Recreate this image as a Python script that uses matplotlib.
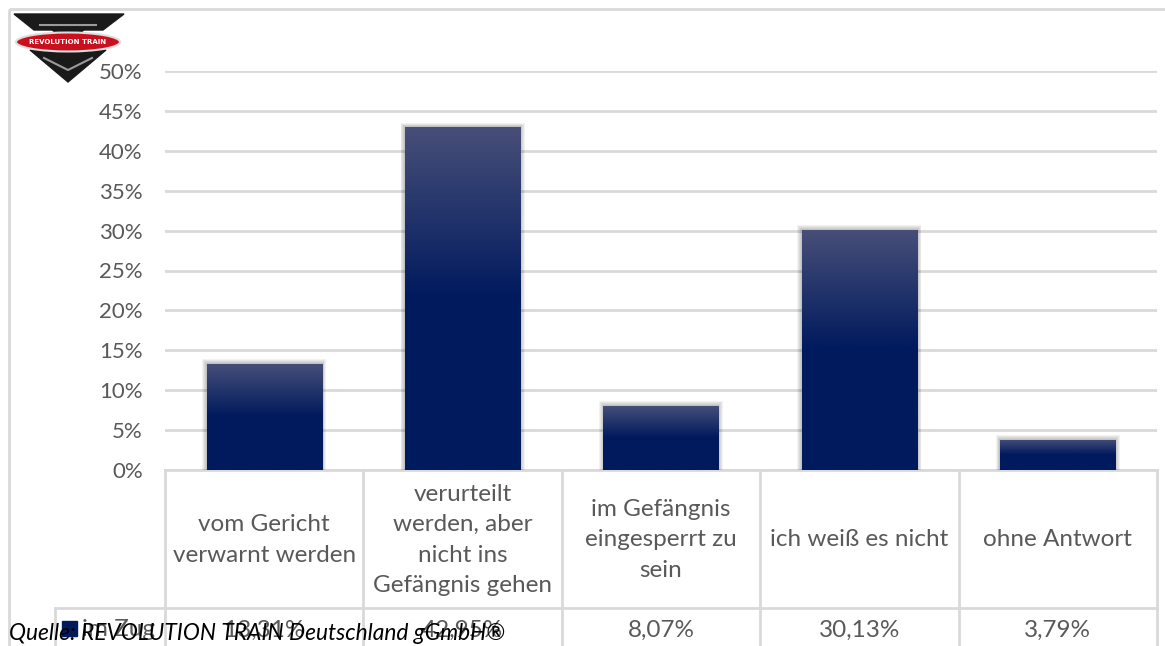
import numpy as np
import matplotlib.pyplot as plt
from matplotlib.patches import Rectangle, Polygon, Ellipse
from matplotlib.colors import to_rgb

# Survey answers ("im Zug") as fractions
categories = [
    "vom Gericht\nverwarnt werden",
    "verurteilt\nwerden, aber\nnicht ins\nGefängnis gehen",
    "im Gefängnis\neingesperrt zu\nsein",
    "ich weiß es nicht",
    "ohne Antwort",
]
values = [0.1331, 0.4295, 0.0807, 0.3013, 0.0379]
value_labels = ["13,31%", "42,95%", "8,07%", "30,13%", "3,79%"]
series_name = "im Zug"
y_ticks = [0, 0.05, 0.10, 0.15, 0.20, 0.25, 0.30, 0.35, 0.40, 0.45, 0.50]
source = "Quelle: REVOLUTION TRAIN Deutschland gGmbH®"

W, H = 1165, 646
TEXT = "#595959"
GRID = "#d9d9d9"
NAVY_DARK = "#001a5e"
NAVY_TOP = "#474f78"
FONT = "Lato"
FS = 17.5

fig = plt.figure(figsize=(W / 100, H / 100), dpi=100)

# pixel-space overlay for frame, table, logo and source line
ov = fig.add_axes([0, 0, 1, 1], zorder=0)
ov.set_xlim(0, W)
ov.set_ylim(H, 0)
ov.axis("off")

# plot area (pixels): x 165..1157, y 71 (50%) .. 470 (0%)
px_l, px_r, px_t, px_b = 165, 1157, 71, 470
ax = fig.add_axes([px_l / W, 1 - px_b / H, (px_r - px_l) / W, (px_b - px_t) / H],
                  zorder=2)
ax.patch.set_alpha(0)
n = len(categories)
ax.set_xlim(-0.5, n - 0.5)
ax.set_ylim(0, 0.5)
for s in ax.spines.values():
    s.set_visible(False)
ax.set_xticks([])
ax.set_yticks(y_ticks)
ax.set_yticklabels([f"{int(round(t * 100))}%" for t in y_ticks],
                   fontsize=16, color=TEXT, family=FONT)
ax.tick_params(axis="y", length=0, pad=16)
ax.yaxis.grid(True, color=GRID, linewidth=2)
ax.set_axisbelow(True)

# gradient-filled bars with a soft shadow
bar_w = 0.58
dx = n / (px_r - px_l)            # data units per pixel (x)
dy = 0.5 / (px_b - px_t)          # data units per pixel (y)
dark, top = np.array(to_rgb(NAVY_DARK)), np.array(to_rgb(NAVY_TOP))
t = np.linspace(0, 1, 256)[:, None]
mix = np.clip((t - 0.5) / 0.5, 0, 1)
grad = (dark * (1 - mix) + top * mix)[:, None, :]

for i, v in enumerate(values):
    x0 = i - bar_w / 2
    for k in range(1, 6):
        ax.add_patch(Rectangle((x0 - k * dx * 0.9, 0), bar_w + 2 * k * dx * 0.9,
                               v + k * dy * 0.9, color="black", alpha=0.05,
                               linewidth=0, zorder=2))
    bar = ax.bar(i, v, width=bar_w, color=NAVY_DARK, linewidth=0, zorder=3)[0]
    im = ax.imshow(grad, extent=[x0, x0 + bar_w, 0, v], origin="lower",
                   aspect="auto", zorder=4, interpolation="bilinear")
    im.set_clip_path(bar)

# outer frame
ov.add_patch(Rectangle((9, 9), W + 20, H, fill=False, edgecolor=GRID, linewidth=2))

# data table under the axis
col_edges = np.linspace(px_l, px_r, n + 1)
col_mid = (col_edges[:-1] + col_edges[1:]) / 2
row_split = 608
ov.plot([px_l, px_r], [px_b, px_b], color=GRID, lw=2)
ov.plot([55, px_r], [row_split, row_split], color=GRID, lw=2)
for xe in col_edges:
    ov.plot([xe, xe], [px_b, H], color=GRID, lw=2)
ov.plot([55, 55], [row_split, H], color=GRID, lw=2)

for xm, cat, lab in zip(col_mid, categories, value_labels):
    ov.text(xm, (px_b + row_split) / 2 + 1, cat, ha="center", va="center",
            fontsize=FS, color=TEXT, family=FONT, linespacing=1.55)
    ov.text(xm, 630, lab, ha="center", va="center", fontsize=FS,
            color=TEXT, family=FONT)

ov.add_patch(Rectangle((62, 621), 15, 15, color=NAVY_DARK, zorder=3))
ov.text(82, 629, series_name, ha="left", va="center", fontsize=FS,
        color=TEXT, family=FONT)

# logo: black chevron with red banner
ov.add_patch(Polygon([(14, 14), (124, 14), (103, 30), (84, 30), (68, 40),
                      (52, 30), (34, 30)], closed=True, color="#1a1a1a", zorder=3))
ov.add_patch(Polygon([(30, 50), (106, 50), (68, 82)], closed=True,
                     color="#1a1a1a", zorder=3))
ov.plot([40, 66, 70, 96], [25, 25, 25, 25], color="#9a9a9a", lw=1.5, zorder=4)
ov.plot([44, 68, 92], [58, 70, 58], color="#9a9a9a", lw=1.5, zorder=4)
ov.add_patch(Ellipse((68, 42), 104, 19, facecolor="#c8101e",
                     edgecolor="#dddddd", lw=1.5, zorder=5))
ov.text(68, 42.5, "REVOLUTION TRAIN", ha="center", va="center", fontsize=5,
        color="white", weight="bold", family="DejaVu Sans", zorder=6)

# source line
ov.text(9, 640, source, ha="left", va="baseline", fontsize=16.4, style="italic",
        color="black", family=FONT, zorder=7)

fig.savefig("out.png", dpi=100)
